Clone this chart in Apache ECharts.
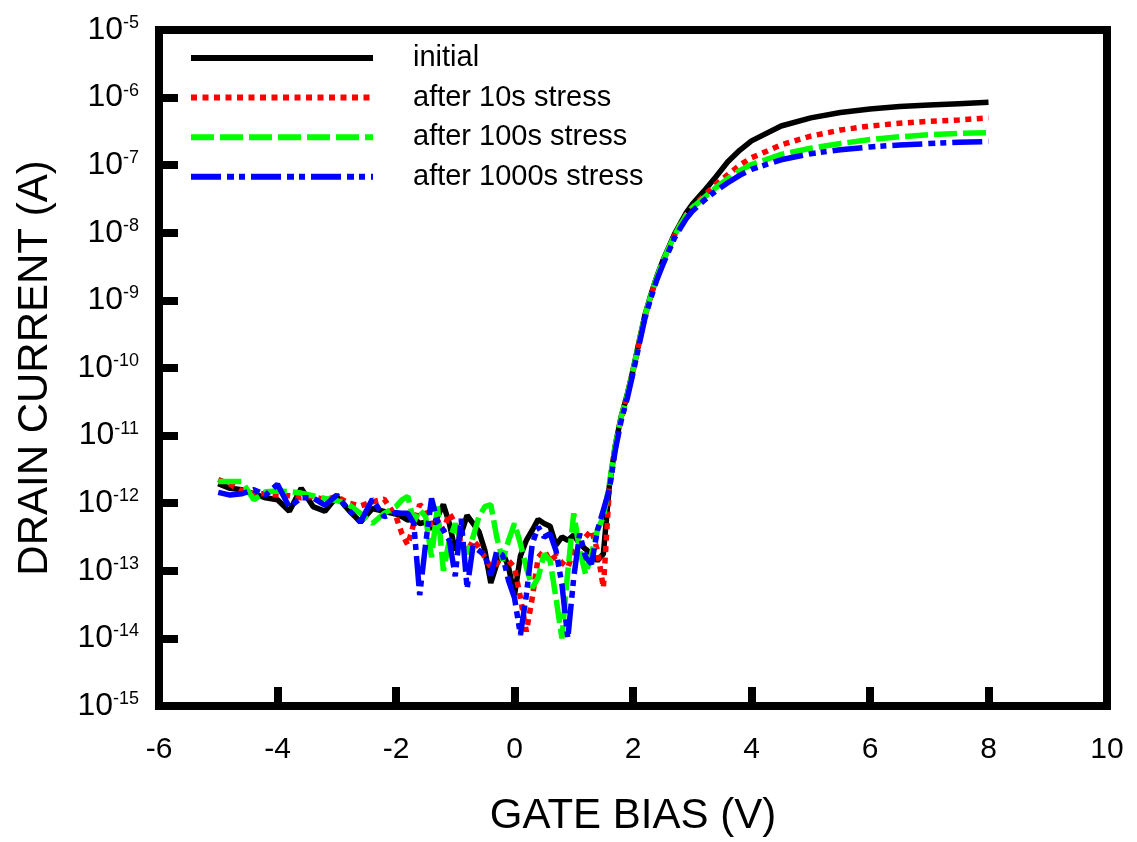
<!DOCTYPE html>
<html>
<head>
<meta charset="utf-8">
<script src="https://cdn.jsdelivr.net/npm/echarts@6/dist/echarts.min.js"></script>
<style>html,body{margin:0;padding:0;background:#fff;}#chart{width:1137px;height:842px;}</style>
</head>
<body>
<div id="chart"></div>
<script>
// Gate bias (V)
const gateV = [-5.0,-4.8,-4.6,-4.4,-4.2,-4.0,-3.8,-3.6,-3.4,-3.2,-3.0,-2.8,-2.6,-2.4,-2.2,-2.0,
  -1.9,-1.8,-1.7,-1.6,-1.5,-1.4,-1.3,-1.2,-1.1,-1.0,
  -0.9,-0.8,-0.7,-0.6,-0.5,-0.4,-0.3,-0.2,-0.1,0.0,
  0.1,0.2,0.3,0.4,0.5,0.6,0.7,0.8,0.9,1.0,
  1.1,1.2,1.3,1.4,1.5,1.6,1.7,1.8,1.9,2.0,
  2.1,2.2,2.3,2.4,2.5,2.6,2.7,2.8,2.9,3.0,
  3.2,3.4,3.6,3.8,4.0,
  4.5,5.0,5.5,6.0,6.5,7.0,7.5,8.0];

// Drain current, read as log10(I / A)
const logIdInitial = [-11.71,-11.78,-11.80,-11.86,-11.92,-11.95,-12.12,-11.78,-12.05,-12.12,-11.90,-12.10,-12.28,-12.08,-12.12,-12.16,
  -12.20,-12.25,-12.22,-12.30,-12.28,-12.38,-12.20,-12.02,-12.30,-12.70,
  -12.45,-12.18,-12.30,-12.42,-12.70,-13.18,-12.90,-12.72,-12.95,-13.36,
  -12.78,-12.55,-12.40,-12.24,-12.30,-12.34,-12.62,-12.50,-12.55,-12.47,
  -12.60,-12.68,-12.75,-12.85,-12.75,-11.75,-11.15,-10.72,-10.40,-10.03,
  -9.62,-9.22,-8.92,-8.65,-8.42,-8.22,-8.02,-7.86,-7.70,-7.58,
  -7.38,-7.17,-6.95,-6.78,-6.64,
  -6.42,-6.30,-6.22,-6.17,-6.13,-6.11,-6.09,-6.07];

const logId10s = [-11.65,-11.72,-11.82,-11.86,-11.86,-11.88,-11.89,-11.92,-11.90,-11.95,-11.90,-12.00,-12.04,-11.98,-11.94,-12.20,
  -12.45,-12.62,-12.30,-12.02,-12.10,-12.35,-12.25,-12.40,-12.15,-12.30,
  -12.60,-12.72,-12.55,-12.65,-12.80,-12.95,-12.90,-12.75,-12.85,-12.95,
  -13.40,-13.90,-13.40,-12.80,-12.70,-12.85,-12.78,-12.88,-12.95,-12.70,
  -12.62,-12.50,-12.40,-12.70,-13.25,-11.80,-11.18,-10.75,-10.42,-10.05,
  -9.64,-9.24,-8.94,-8.67,-8.44,-8.24,-8.04,-7.88,-7.73,-7.62,
  -7.45,-7.28,-7.14,-7.00,-6.89,
  -6.70,-6.57,-6.48,-6.42,-6.38,-6.35,-6.33,-6.30];

const logId100s = [-11.68,-11.68,-11.68,-11.95,-11.83,-11.82,-11.83,-11.85,-11.89,-11.93,-11.96,-12.02,-12.15,-12.30,-12.15,-12.05,
  -11.95,-11.90,-12.28,-12.10,-12.20,-12.80,-12.05,-13.00,-12.55,-12.30,
  -12.60,-12.75,-12.50,-12.20,-12.05,-12.02,-12.50,-12.85,-12.55,-12.30,
  -12.60,-12.95,-13.25,-13.10,-12.75,-12.85,-13.40,-14.00,-13.00,-12.15,
  -12.70,-13.05,-12.75,-12.40,-12.20,-11.72,-11.15,-10.73,-10.41,-10.04,
  -9.63,-9.23,-8.93,-8.66,-8.43,-8.23,-8.04,-7.88,-7.74,-7.63,
  -7.48,-7.33,-7.20,-7.08,-6.99,
  -6.84,-6.75,-6.68,-6.62,-6.58,-6.55,-6.53,-6.52];

const logId1000s = [-11.84,-11.88,-11.86,-11.80,-11.88,-11.72,-12.06,-11.92,-11.92,-12.03,-11.88,-12.10,-12.28,-11.94,-12.20,-12.14,
  -12.15,-12.15,-12.30,-13.36,-12.60,-11.93,-12.27,-12.40,-12.55,-13.08,
  -12.23,-13.26,-12.63,-12.70,-12.77,-13.07,-12.71,-12.77,-13.15,-13.40,
  -13.95,-13.36,-12.60,-12.35,-12.50,-12.45,-12.70,-13.20,-14.00,-13.10,
  -12.45,-12.80,-12.90,-12.40,-12.10,-11.80,-11.22,-10.78,-10.46,-10.08,
  -9.67,-9.27,-8.97,-8.70,-8.48,-8.28,-8.08,-7.93,-7.79,-7.68,
  -7.52,-7.38,-7.26,-7.15,-7.06,
  -6.92,-6.83,-6.77,-6.73,-6.70,-6.68,-6.66,-6.65];

const seriesNames = ['initial', 'after 10s stress', 'after 100s stress', 'after 1000s stress'];
const xTitle = 'GATE BIAS (V)';
const yTitle = 'DRAIN CURRENT (A)';

function toPairs(logArr) {
  return gateV.map((v, i) => [v, Math.pow(10, logArr[i])]);
}

const styles = [
  { color: '#000000', type: 'solid' },
  { color: '#ff0000', type: [6, 5.5] },
  { color: '#00ff00', type: [23, 6] },
  { color: '#0000ff', type: [30, 6, 7, 5, 6, 6] }
];
const allLogs = [logIdInitial, logId10s, logId100s, logId1000s];

const chart = echarts.init(document.getElementById('chart'), null, { renderer: 'canvas' });
const FONT = 'Liberation Sans, Arial, sans-serif';

const option = {
  backgroundColor: '#ffffff',
  animation: false,
  grid: {
    left: 159, top: 30, right: 30, bottom: 131,
    show: true, borderColor: '#000', borderWidth: 8, backgroundColor: 'transparent'
  },
  legend: {
    orient: 'vertical',
    left: 188,
    top: 43,
    padding: 0,
    itemWidth: 182,
    itemHeight: 14,
    itemGap: 9.6,
    data: seriesNames,
    itemStyle: { opacity: 0 },
    lineStyle: { width: 6 },
    textStyle: { fontFamily: FONT, fontSize: 29, color: '#000', lineHeight: 30, padding: [0, 0, 0, 35] }
  },
  xAxis: {
    type: 'value',
    min: -6, max: 10, interval: 2,
    name: xTitle,
    nameLocation: 'middle',
    nameGap: 89,
    nameTextStyle: { fontFamily: FONT, fontSize: 42, color: '#000' },
    axisLine: { show: false, onZero: false },
    axisTick: { show: true, inside: true, length: 19, lineStyle: { color: '#000', width: 8 } },
    axisLabel: { fontFamily: FONT, fontSize: 30, color: '#000', margin: 29 },
    splitLine: { show: false }
  },
  yAxis: {
    type: 'log',
    logBase: 10,
    min: 1e-15, max: 1e-5,
    splitNumber: 10,
    name: yTitle,
    nameLocation: 'middle',
    nameGap: 103,
    nameTextStyle: { fontFamily: FONT, fontSize: 42, color: '#000' },
    axisLine: { show: false, onZero: false },
    axisTick: { show: true, inside: true, length: 19, lineStyle: { color: '#000', width: 8 } },
    axisLabel: {
      margin: 20,
      formatter: function (v) {
        const e = Math.round(Math.log10(v));
        return '{b|10}{s|' + e + '}';
      },
      rich: {
        b: { fontFamily: FONT, fontSize: 32, color: '#000', lineHeight: 32 },
        s: { fontFamily: FONT, fontSize: 18, color: '#000', lineHeight: 18, verticalAlign: 'top' }
      }
    },
    splitLine: { show: false },
    minorTick: { show: false }
  },
  series: seriesNames.map((name, k) => ({
    name: name,
    type: 'line',
    symbol: 'none',
    showSymbol: false,
    clip: true,
    data: toPairs(allLogs[k]),
    lineStyle: { color: styles[k].color, width: 5.5, type: styles[k].type, cap: 'butt' },
    itemStyle: { color: styles[k].color }
  }))
};
chart.setOption(option);
</script>
</body>
</html>
